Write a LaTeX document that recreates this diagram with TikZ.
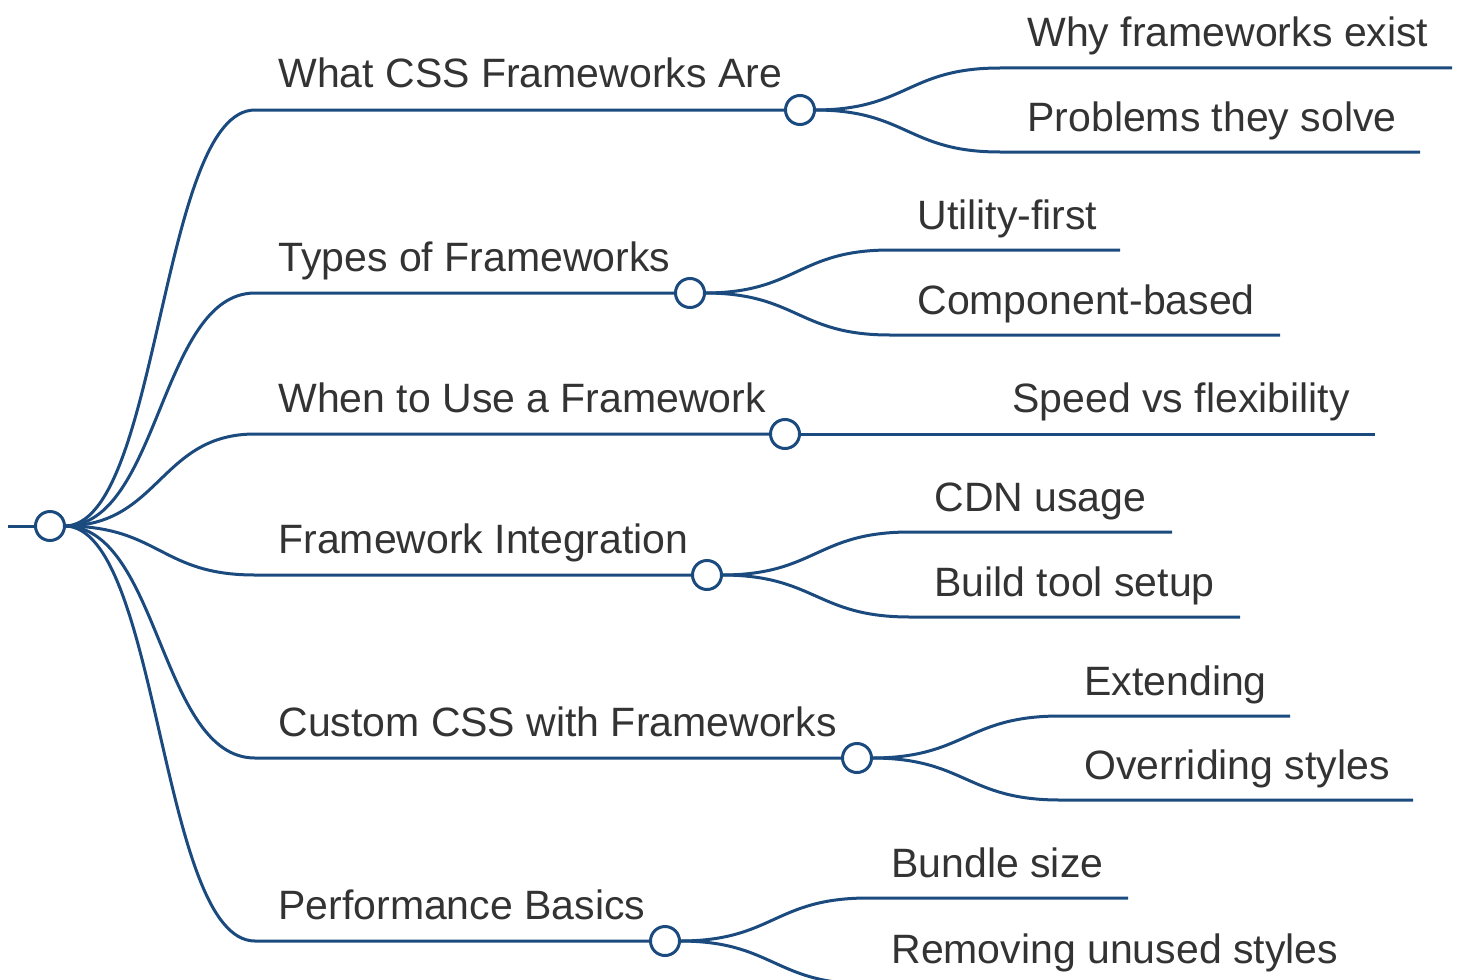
\documentclass[tikz,border=0pt]{standalone}
\usepackage{fontspec}
\setmainfont{Liberation Sans}
\usetikzlibrary{calc}
\definecolor{edge}{RGB}{26,74,126}
\definecolor{ink}{RGB}{51,51,51}
% curved link: horizontal S-bend from #1 to #2, then straight on to #3
\newcommand\mmlink[3]{\draw[link] let \p1=(#1), \p2=(#2) in
  (\p1) .. controls ({0.5*\x1+0.5*\x2},\y1) and ({0.5*\x1+0.5*\x2},\y2) .. (\p2) -- (#3);}
\begin{document}
\begin{tikzpicture}[x=0.5pt,y=-0.5pt,
  link/.style={draw=edge,line width=1.5pt},
  dot/.style={circle,draw=edge,fill=white,line width=1.5pt,minimum size=14.5pt,inner sep=0pt,outer sep=0pt},
  txt/.style={anchor=base west,inner sep=0pt,text=ink,font=\fontsize{20.5}{24}\selectfont}]
\useasboundingbox (0,0) rectangle (1459,979);
\clip (0,0) rectangle (1459,979);

% root
\node[dot] (root) at (50,526) {};
\coordinate (stub) at (8,526);
\draw[link] (stub) -- (root.west);

% first level
\node[dot] (b1) at (800,110) {};
\node[dot] (b2) at (690,293) {};
\node[dot] (b3) at (785,434) {};
\node[dot] (b4) at (707,575) {};
\node[dot] (b5) at (857,758) {};
\node[dot] (b6) at (665,941) {};
\coordinate (b1s) at (255,110);
\coordinate (b2s) at (255,293);
\coordinate (b3s) at (255,434);
\coordinate (b4s) at (255,575);
\coordinate (b5s) at (255,758);
\coordinate (b6s) at (255,941);
\node[txt] (t1) at (278,88)  {What CSS Frameworks Are};
\node[txt] (t2) at (278,271) {Types of Frameworks};
\node[txt] (t3) at (278,412) {When to Use a Framework};
\node[txt] (t4) at (278,553) {Framework Integration};
\node[txt] (t5) at (278,736) {Custom CSS with Frameworks};
\node[txt] (t6) at (278,919) {Performance Basics};
\mmlink{root.east}{b1s}{b1.west}
\mmlink{root.east}{b2s}{b2.west}
\mmlink{root.east}{b3s}{b3.west}
\mmlink{root.east}{b4s}{b4.west}
\mmlink{root.east}{b5s}{b5.west}
\mmlink{root.east}{b6s}{b6.west}

% second level
\coordinate (c11s) at (1000,68);  \coordinate (c11e) at (1452,68);
\coordinate (c12s) at (1000,152); \coordinate (c12e) at (1420,152);
\coordinate (c21s) at (890,250);  \coordinate (c21e) at (1120,250);
\coordinate (c22s) at (890,335);  \coordinate (c22e) at (1280,335);
\coordinate (c31e) at (1375,434);
\coordinate (c41s) at (910,532);  \coordinate (c41e) at (1172,532);
\coordinate (c42s) at (910,617);  \coordinate (c42e) at (1240,617);
\coordinate (c51s) at (1060,716); \coordinate (c51e) at (1290,716);
\coordinate (c52s) at (1060,800); \coordinate (c52e) at (1413,800);
\coordinate (c61s) at (868,898);  \coordinate (c61e) at (1128,898);
\coordinate (c62s) at (868,984);  \coordinate (c62e) at (1360,984);

\mmlink{b1.east}{c11s}{c11e}
\mmlink{b1.east}{c12s}{c12e}
\mmlink{b2.east}{c21s}{c21e}
\mmlink{b2.east}{c22s}{c22e}
\draw[link] (b3.east) -- (c31e);
\mmlink{b4.east}{c41s}{c41e}
\mmlink{b4.east}{c42s}{c42e}
\mmlink{b5.east}{c51s}{c51e}
\mmlink{b5.east}{c52s}{c52e}
\mmlink{b6.east}{c61s}{c61e}
\mmlink{b6.east}{c62s}{c62e}

\node[txt] (u11) at (1027,47)  {Why frameworks exist};
\node[txt] (u12) at (1027,131) {Problems they solve};
\node[txt] (u21) at (917,229)  {Utility-first};
\node[txt] (u22) at (917,314)  {Component-based};
\node[txt] (u31) at (1012,412) {Speed vs flexibility};
\node[txt] (u41) at (934,511)  {CDN usage};
\node[txt] (u42) at (934,596)  {Build tool setup};
\node[txt] (u51) at (1084,695) {Extending};
\node[txt] (u52) at (1084,779) {Overriding styles};
\node[txt] (u61) at (891,877)  {Bundle size};
\node[txt] (u62) at (891,963)  {Removing unused styles};
\end{tikzpicture}
\end{document}
